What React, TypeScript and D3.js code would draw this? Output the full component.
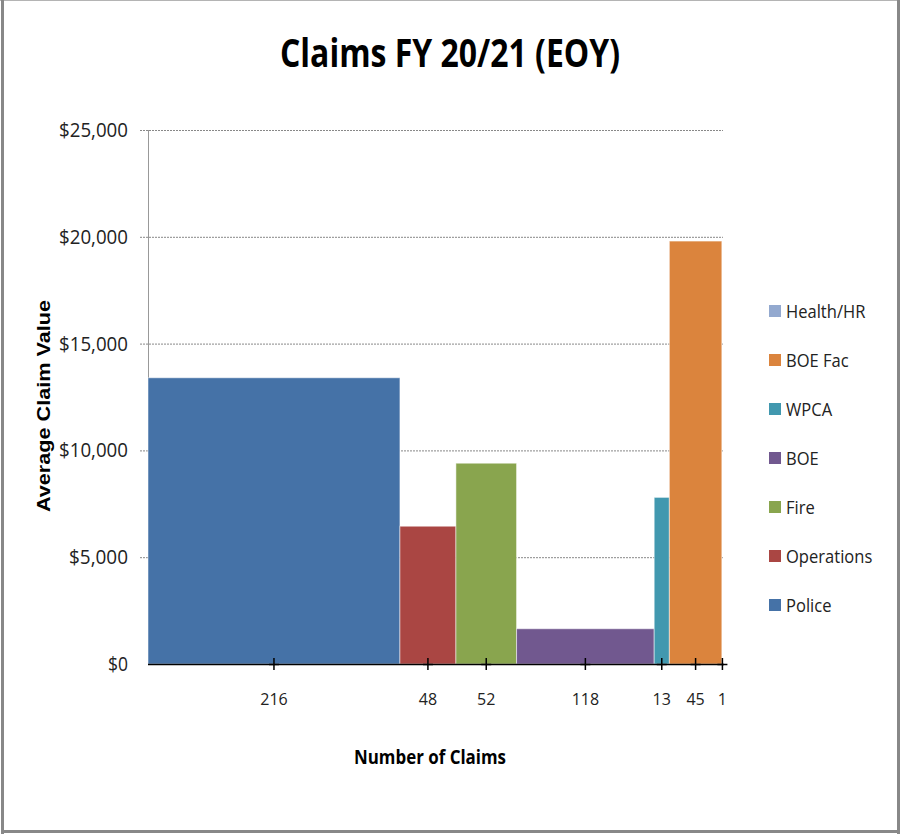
import React, { useEffect, useRef } from 'react';
import * as d3 from 'd3';

// departments in drawing order (left to right)
const departments = ['Police', 'Operations', 'Fire', 'BOE', 'WPCA', 'BOE Fac', 'Health/HR'];
const claimCounts = [216, 48, 52, 118, 13, 45, 1];
const avgClaimValue = [13400, 6450, 9400, 1650, 7800, 19800, 0];
const colors = ['#4572A7', '#AA4643', '#89A54E', '#71588F', '#4198AF', '#DB843D', '#93A9CF'];
const yTicks = [0, 5000, 10000, 15000, 20000, 25000];

const FONT = "'Open Sans', 'Noto Sans', sans-serif";

export default function App() {
  const ref = useRef<SVGSVGElement>(null);

  useEffect(() => {
    const svg = d3.select(ref.current);
    svg.selectAll('*').remove();

    const width = 900;
    const height = 836;
    const left = 148, right = 723, top = 130, bottom = 664;

    // frame
    svg.append('rect').attr('x', 0).attr('y', 0).attr('width', width).attr('height', height).attr('fill', '#fff');
    svg.append('line').attr('x1', 0).attr('x2', width).attr('y1', 0.5).attr('y2', 0.5).attr('stroke', '#b4b4b4');
    svg.append('rect').attr('x', 1).attr('y', 0).attr('width', 3).attr('height', 834).attr('fill', '#888');
    svg.append('rect').attr('x', 897).attr('y', 0).attr('width', 3).attr('height', 834).attr('fill', '#888');
    svg.append('rect').attr('x', 1).attr('y', 830).attr('width', 899).attr('height', 3).attr('fill', '#888');

    const total = d3.sum(claimCounts);
    const x = d3.scaleLinear().domain([0, total]).range([left, right]);
    const y = d3.scaleLinear().domain([0, 25000]).range([bottom, top]);

    const starts = claimCounts.map((_, i) => d3.sum(claimCounts.slice(0, i)));
    const data = departments.map((name, i) => ({
      name,
      count: claimCounts[i],
      value: avgClaimValue[i],
      color: colors[i],
      start: starts[i],
      end: starts[i] + claimCounts[i]
    }));

    // gridlines
    svg.append('g').selectAll('line')
      .data(yTicks.filter(t => t > 0))
      .enter().append('line')
      .attr('x1', left - 8).attr('x2', right)
      .attr('y1', d => y(d) + 0.5).attr('y2', d => y(d) + 0.5)
      .attr('stroke', '#888').attr('stroke-dasharray', '2,1');

    // y axis line
    svg.append('line').attr('x1', left + 0.5).attr('x2', left + 0.5).attr('y1', top).attr('y2', bottom)
      .attr('stroke', '#999');

    // y tick labels
    svg.append('g').selectAll('text')
      .data(yTicks)
      .enter().append('text')
      .attr('x', 128).attr('y', d => y(d) + 7)
      .attr('text-anchor', 'end')
      .attr('font-family', FONT).attr('font-size', 20).attr('fill', '#222')
      .attr('textLength', d => d === 0 ? 20 : d < 10000 ? 59 : 69)
      .attr('lengthAdjust', 'spacingAndGlyphs')
      .text(d => d3.format('$,')(d));

    // bars
    svg.append('g').selectAll('rect')
      .data(data.filter(d => d.value > 0))
      .enter().append('rect')
      .attr('x', d => x(d.start))
      .attr('width', d => x(d.end) - x(d.start))
      .attr('y', d => y(d.value))
      .attr('height', d => y(0) - y(d.value))
      .attr('fill', d => d.color)
      .attr('stroke', 'rgba(255,255,255,0.5)').attr('stroke-width', 1);

    // x axis line
    svg.append('line').attr('x1', left).attr('x2', right + 1).attr('y1', bottom + 0.5).attr('y2', bottom + 0.5)
      .attr('stroke', '#000').attr('stroke-width', 1.5);

    // "+" ticks at segment centres
    const ticks = svg.append('g');
    data.forEach(d => {
      const cx = Math.min(x((d.start + d.end) / 2), right);
      ticks.append('line').attr('x1', cx).attr('x2', cx).attr('y1', bottom - 6).attr('y2', bottom + 6)
        .attr('stroke', '#000').attr('stroke-width', 1.5);
      ticks.append('line').attr('x1', cx - 5).attr('x2', cx + 5).attr('y1', bottom + 0.5).attr('y2', bottom + 0.5)
        .attr('stroke', '#000').attr('stroke-width', 1.5);
      ticks.append('text')
        .attr('x', cx).attr('y', 705)
        .attr('text-anchor', 'middle')
        .attr('font-family', FONT).attr('font-size', 16).attr('fill', '#222')
        .text(d.count);
    });

    // title
    svg.append('text')
      .attr('x', 450).attr('y', 67)
      .attr('text-anchor', 'middle')
      .attr('font-family', FONT).attr('font-size', 40).attr('font-weight', 'bold')
      .attr('textLength', 340).attr('lengthAdjust', 'spacingAndGlyphs')
      .text('Claims FY 20/21 (EOY)');

    // axis titles
    svg.append('text')
      .attr('x', 430).attr('y', 764)
      .attr('text-anchor', 'middle')
      .attr('font-family', FONT).attr('font-size', 20).attr('font-weight', 'bold')
      .attr('textLength', 152).attr('lengthAdjust', 'spacingAndGlyphs')
      .text('Number of Claims');

    svg.append('text')
      .attr('transform', 'translate(50,406) rotate(-90)')
      .attr('text-anchor', 'middle')
      .attr('font-family', "'Liberation Sans', Arial, sans-serif").attr('font-size', 18).attr('font-weight', 'bold')
      .attr('textLength', 212).attr('lengthAdjust', 'spacingAndGlyphs')
      .text('Average Claim Value');

    // legend, reverse order
    const legend = svg.append('g');
    data.slice().reverse().forEach((d, i) => {
      const cy = 311 + i * 49;
      legend.append('rect').attr('x', 769).attr('y', cy - 6).attr('width', 12).attr('height', 12).attr('fill', d.color);
      legend.append('text')
        .attr('x', 786).attr('y', cy + 7)
        .attr('font-family', FONT).attr('font-size', 18).attr('fill', '#222')
        .attr('transform', 'translate(786,0) scale(0.92,1) translate(-786,0)')
        .text(d.name);
    });
  }, []);

  return (
    <svg ref={ref} width={900} height={836} style={{ position: 'absolute', left: 0, top: 0 }}></svg>
  );
}
